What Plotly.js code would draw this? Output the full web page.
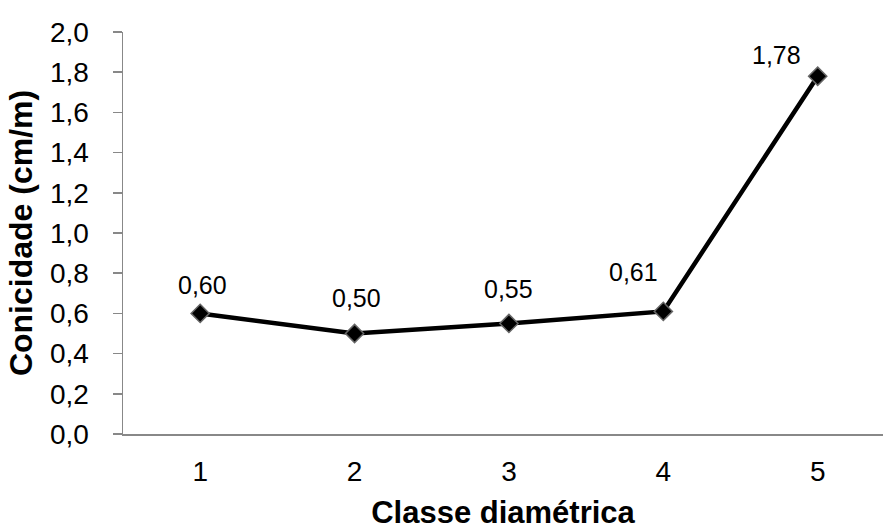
<!DOCTYPE html>
<html>
<head>
<meta charset="utf-8">
<script src="https://cdn.plot.ly/plotly-3.0.1.min.js"></script>
<style>html,body{margin:0;padding:0;background:#fff;}#chart{width:883px;height:530px;}</style>
</head>
<body>
<div id="chart"></div>
<script>
// Data
const categories = [1, 2, 3, 4, 5];
const conicidade = [0.60, 0.50, 0.55, 0.61, 1.78];
const yTickVals = [0, 0.2, 0.4, 0.6, 0.8, 1.0, 1.2, 1.4, 1.6, 1.8, 2.0];
const yTickText = ['0,0', '0,2', '0,4', '0,6', '0,8', '1,0', '1,2', '1,4', '1,6', '1,8', '2,0'];
const xTitle = 'Classe diamétrica';
const yTitle = 'Conicidade (cm/m)';

// label placement (pixel offsets from each point)
const labelShiftX = [2, 2, 0, -30, -41];
const labelShiftY = [28, 36, 34, 39, 21];

const fmt = v => v.toFixed(2).replace('.', ',');
const FONT = 'Liberation Sans, Arial, sans-serif';

const trace = {
  x: categories,
  y: conicidade,
  type: 'scatter',
  mode: 'lines+markers',
  line: {color: '#000000', width: 4.5},
  marker: {symbol: 'diamond', size: 14, color: '#000000', line: {color: '#666666', width: 1.5}},
  hoverinfo: 'skip'
};

const annotations = categories.map((c, i) => ({
  x: c, y: conicidade[i], xref: 'x', yref: 'y',
  text: fmt(conicidade[i]), showarrow: false,
  xshift: labelShiftX[i], yshift: labelShiftY[i],
  font: {family: FONT, size: 25, color: '#000000'}
}));

const layout = {
  width: 883, height: 530,
  margin: {l: 123, r: 0, t: 32, b: 96, pad: 0},
  paper_bgcolor: '#ffffff', plot_bgcolor: '#ffffff',
  showlegend: false,
  font: {family: FONT, color: '#000000'},
  xaxis: {
    range: [0.5, 5.423],
    tickvals: categories,
    ticktext: categories.map(String),
    ticks: '',
    showgrid: false, zeroline: false,
    showline: true, linecolor: '#888888', linewidth: 1.5,
    tickfont: {family: FONT, size: 28, color: '#000000'},
    ticklabelstandoff: 12,
    title: {text: '<b>' + xTitle + '</b>', font: {family: FONT, size: 31, color: '#000000'}, standoff: 16},
    fixedrange: true
  },
  yaxis: {
    range: [0, 2.0],
    tickvals: yTickVals,
    ticktext: yTickText,
    ticks: 'outside', ticklen: 9, tickwidth: 1.5, tickcolor: '#888888',
    showgrid: false, zeroline: false,
    showline: true, linecolor: '#888888', linewidth: 1.5,
    tickfont: {family: FONT, size: 28, color: '#000000'},
    ticklabelstandoff: 18,
    title: {text: '<b>' + yTitle + '</b>', font: {family: FONT, size: 32, color: '#000000'}, standoff: 8},
    fixedrange: true
  },
  annotations: annotations
};

Plotly.newPlot('chart', [trace], layout, {displayModeBar: false, staticPlot: true});
</script>
</body>
</html>
